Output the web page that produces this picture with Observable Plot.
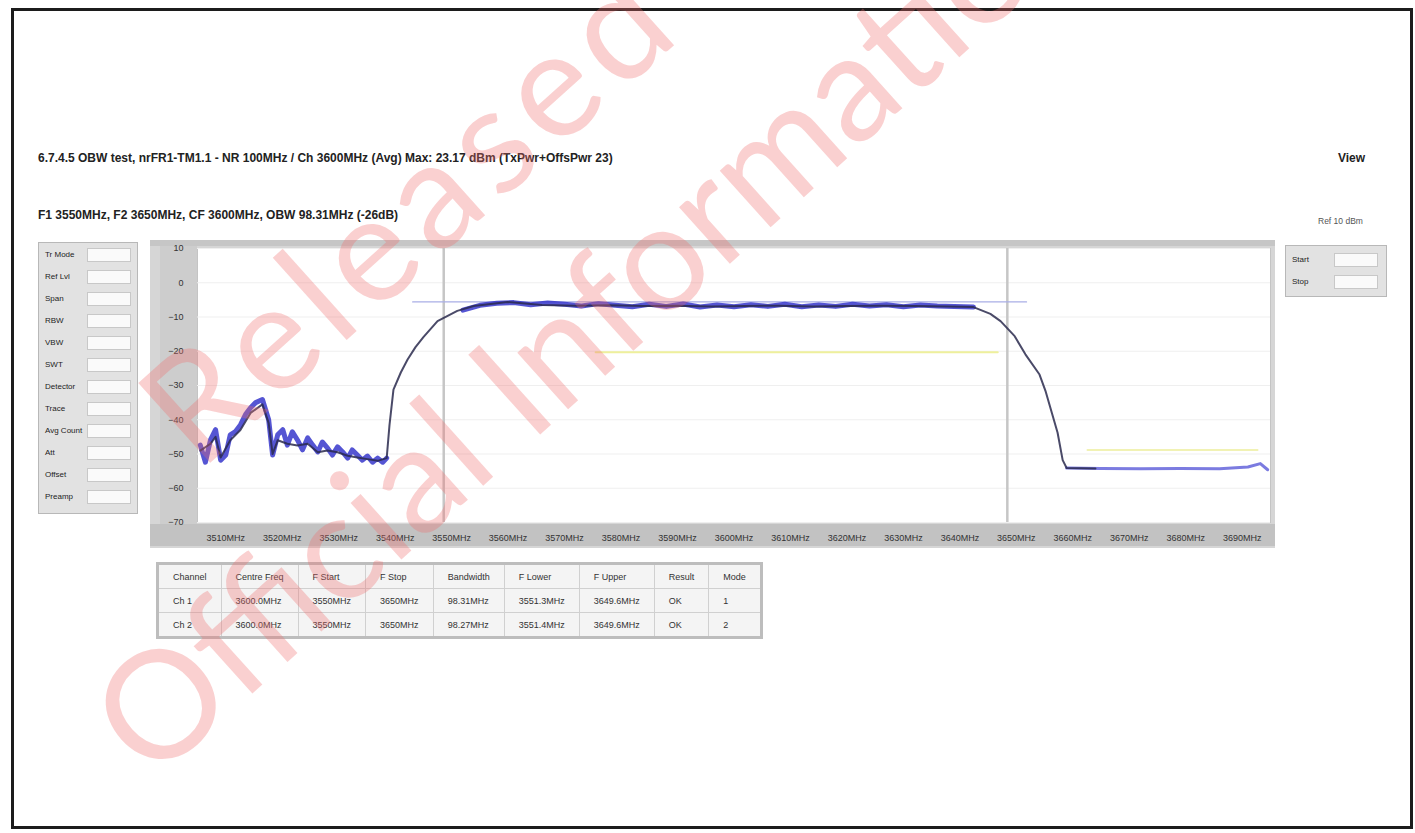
<!DOCTYPE html>
<html><head><meta charset="utf-8">
<script src="https://cdn.jsdelivr.net/npm/d3@7"></script>
<script src="https://cdn.jsdelivr.net/npm/@observablehq/plot@0.6"></script>
<style>
body{margin:0;background:#fff;font-family:"Liberation Sans",Arial,sans-serif;color:#222}
#page{position:relative;width:1415px;height:833px;overflow:hidden;background:#fff}
.abs{position:absolute}
#frame{left:11px;top:8px;width:1396px;height:815px;border:3px solid #1c1c1c;box-sizing:content-box}
.title{font-size:12px;font-weight:bold;white-space:nowrap}
#left{left:38px;top:242px;width:98px;height:270px;background:#e2e2e2;border:1px solid #b8b8b8}
.row{position:absolute;left:4px;width:90px;height:18px;font-size:8px;line-height:18px}
.row .lab{position:absolute;left:2px;top:0}
.row .val{position:absolute;left:44px;top:2px;width:44px;height:14px;background:#fafafa;border:1px solid #c8c8c8;box-sizing:border-box}
#chartbox{left:150px;top:240px;width:1125px;height:308px;background:#d6d6d6;border-top:6px solid #c6c6c6;box-sizing:border-box}
#ycol{left:160px;top:246px;width:37px;height:280px;background:#cdcdcd}
#xband{left:150px;top:524px;width:1125px;height:22px;background:#c2c2c2}
#plot{left:150px;top:240px}
#right{left:1285px;top:245px;width:100px;height:50px;background:#e2e2e2;border:1px solid #b8b8b8}
table#res{position:absolute;left:156px;top:562px;border-collapse:collapse;border:3px solid #bdbdbd;background:#f4f4f4;font-size:9px}
#res td{border:1px solid #d0d0d0;padding:0 14px;height:23px;white-space:nowrap;color:#333}
#wm{left:0;top:0;pointer-events:none}
</style></head><body>
<div id="page">
  <div class="abs" id="frame"></div>
  <div class="abs title" style="left:38px;top:151px">6.7.4.5 OBW test, nrFR1-TM1.1 - NR 100MHz / Ch 3600MHz (Avg) Max: 23.17 dBm (TxPwr+OffsPwr 23)</div>
  <div class="abs title" style="left:1338px;top:151px">View</div>
  <div class="abs title" style="left:38px;top:208px">F1 3550MHz, F2 3650MHz, CF 3600MHz, OBW 98.31MHz (-26dB)</div>
  <div class="abs" style="left:1318px;top:216px;font-size:8.5px;color:#555">Ref 10 dBm</div>
  <div class="abs" id="left"></div>
  <div class="abs" id="chartbox"></div>
  <div class="abs" id="ycol"></div>
  <div class="abs" id="xband"></div>
  <div class="abs" id="plot"></div>
  <div class="abs" id="right"></div>
  <table id="res"></table>
  <svg class="abs" id="wm" width="1415" height="833"></svg>
</div>
<script>
// ---- data ----
const xTicks = [3510,3520,3530,3540,3550,3560,3570,3580,3590,3600,3610,3620,3630,3640,3650,3660,3670,3680,3690];
const yTicks = [10,0,-10,-20,-30,-40,-50,-60,-70];

// blue (max hold) trace, frequency in MHz, level in dBm
const blueNoiseF = [3505.5,3506.4,3507.3,3508.2,3509.1,3510.0,3510.8,3511.7,3512.6,3513.5,3514.4,3515.3,3516.5,3517.6,3518.3,3519.2,3520.1,3520.9,3521.8,3522.7,3523.6,3524.5,3525.4,3526.3,3527.1,3528.0,3528.9,3529.8,3530.7,3531.6,3532.4,3533.3,3534.2,3535.1,3536.0,3536.9,3537.8,3538.5];
const blueNoiseV = [-47.4,-52.4,-45.9,-42.9,-51.8,-50.3,-44.4,-43.5,-41.5,-38.5,-36.5,-35.0,-34.1,-40.0,-50.3,-44.4,-42.9,-47.4,-43.5,-45.9,-48.8,-45.3,-47.4,-49.4,-46.5,-48.2,-50.3,-47.9,-49.4,-51.2,-48.8,-50.3,-51.8,-50.6,-52.4,-51.2,-52.4,-51.2];
const plateauF = [3552,3555,3558,3561,3564,3567,3570,3573,3576,3579,3582,3585,3588,3591,3594,3597,3600,3603,3606,3609,3612,3615,3618,3621,3624,3627,3630,3633,3636,3639,3642.4];
const plateauV = [-8.0,-6.6,-6.0,-5.8,-6.4,-5.9,-6.3,-6.8,-6.1,-6.6,-7.0,-6.3,-6.9,-6.2,-7.1,-6.5,-7.0,-6.4,-6.9,-6.3,-7.0,-6.5,-6.9,-6.3,-6.8,-6.4,-7.0,-6.5,-6.8,-6.9,-7.1];
const floorF = [3658.9,3665,3672,3679,3686,3691,3693.2,3694.5];
const floorV = [-54.1,-54.2,-54.3,-54.2,-54.3,-53.8,-52.8,-54.6];

// dark (average) trace
const darkNoiseF = [3505.5,3507.3,3508.2,3509.1,3510.8,3512.6,3514.4,3516.5,3517.6,3518.3,3519.2,3520.9,3522.7,3524.5,3526.3,3528.0,3529.8,3531.6,3533.3,3535.1,3536.9,3538.5];
const darkNoiseV = [-49,-47,-45,-51,-46,-43,-38,-35.5,-41,-50,-46,-47,-47.5,-47,-49.5,-49,-49.5,-50.5,-51,-51.5,-52,-51.2];
const riseF = [3539.0,3539.7,3541.0,3542.2,3543.6,3545.0,3547.5,3551.0,3553.9,3559.9];
const riseV = [-41.5,-31.2,-26.2,-22.4,-18.8,-15.9,-11.2,-8.2,-6.8,-5.6];
const darkPlateauF = [3566,3572,3578,3584,3590,3596,3602,3608,3614,3620,3626,3632,3638,3642.4];
const darkPlateauV = [-6.5,-6.7,-6.6,-6.8,-6.7,-6.9,-6.8,-6.7,-6.9,-6.8,-6.7,-6.8,-6.9,-7.1];
const fallF = [3645.4,3647.2,3649.7,3651.6,3654.1,3655.2,3657.3,3658.2,3658.9,3664];
const fallV = [-9.1,-11.2,-15.6,-20.9,-26.8,-31.8,-43.8,-51.8,-54.1,-54.2];

// markers and reference lines
const obwMarkers = [3548.6, 3648.4];
const limitF = [3543.1, 3651.8], limitV = -5.6;
const yellowAF = [3575.5, 3646.7], yellowAV = -20.3;
const yellowBF = [3662.6, 3692.7], yellowBV = -48.8;

// side panels / table text
const leftLabels = ["Tr Mode","Ref Lvl","Span","RBW","VBW","SWT","Detector","Trace","Avg Count","Att","Offset","Preamp"];
const rightLabels = ["Start","Stop"];
const tableRows = [
  ["Channel","Centre Freq","F Start","F Stop","Bandwidth","F Lower","F Upper","Result","Mode"],
  ["Ch 1","3600.0MHz","3550MHz","3650MHz","98.31MHz","3551.3MHz","3649.6MHz","OK","1"],
  ["Ch 2","3600.0MHz","3550MHz","3650MHz","98.27MHz","3551.4MHz","3649.6MHz","OK","2"]
];
const watermark = ["Released", "Official Information Act"];

// ---- build ----
const toPts = (F, V) => F.map((f, i) => ({f, v: V[i]}));
const blue = [
  ...toPts(blueNoiseF, blueNoiseV).map(d => ({...d, s: "noise"})),
  ...toPts(plateauF, plateauV).map(d => ({...d, s: "plateau"}))
];
const floor = toPts(floorF, floorV);
const dark = [
  ...toPts(darkNoiseF, darkNoiseV),
  ...toPts(riseF, riseV),
  ...toPts(darkPlateauF, darkPlateauV),
  ...toPts(fallF, fallV)
];
const seg = (F, v, name) => F.map(f => ({f, v, name}));

const chart = Plot.plot({
  width: 1125, height: 308,
  marginLeft: 47, marginRight: 5, marginTop: 8, marginBottom: 26,
  style: {background: "transparent", fontFamily: "Liberation Sans, Arial, sans-serif", fontSize: "9px", color: "#333"},
  x: {domain: [3505, 3695], ticks: xTicks, tickFormat: d => d + "MHz", tickSize: 0, tickPadding: 12, label: null},
  y: {domain: [-70, 10], ticks: yTicks, tickSize: 0, tickPadding: 14, label: null},
  marks: [
    Plot.frame({fill: "white", stroke: "#c4c4c4"}),
    Plot.gridY(yTicks, {stroke: "#efefef", strokeOpacity: 1}),
    Plot.ruleX(obwMarkers, {stroke: "#c6c6c6", strokeWidth: 2.5}),
    Plot.line(seg(yellowAF, yellowAV, "a"), {x: "f", y: "v", stroke: "#eef09c", strokeWidth: 2}),
    Plot.line(seg(yellowBF, yellowBV, "b"), {x: "f", y: "v", stroke: "#f1f2b4", strokeWidth: 2}),
    Plot.line(seg(limitF, limitV, "l"), {x: "f", y: "v", stroke: "#a9aee6", strokeWidth: 1.2}),
    Plot.line(blue, {x: "f", y: "v", z: "s", stroke: "#2a2ac8", strokeWidth: 5, strokeOpacity: 0.8}),
    Plot.line(floor, {x: "f", y: "v", stroke: "#7b7be0", strokeWidth: 3}),
    Plot.line(dark, {x: "f", y: "v", stroke: "#2a2a4e", strokeWidth: 2, strokeOpacity: 0.85})
  ]
});
document.getElementById("plot").appendChild(chart);

const left = document.getElementById("left");
leftLabels.forEach((t, i) => {
  const r = document.createElement("div");
  r.className = "row"; r.style.top = (3 + i * 22) + "px";
  r.innerHTML = `<span class="lab">${t}</span><span class="val"></span>`;
  left.appendChild(r);
});
const right = document.getElementById("right");
rightLabels.forEach((t, i) => {
  const r = document.createElement("div");
  r.className = "row"; r.style.top = (5 + i * 22) + "px";
  r.innerHTML = `<span class="lab">${t}</span><span class="val"></span>`;
  right.appendChild(r);
});
const tbl = document.getElementById("res");
tableRows.forEach(row => {
  const tr = document.createElement("tr");
  row.forEach(c => { const td = document.createElement("td"); td.textContent = c; tr.appendChild(td); });
  tbl.appendChild(tr);
});

const wm = d3.select("#wm");
const wmPos = [[200, 472], [152, 784]];
const wmSpacing = [9, 0];
watermark.forEach((t, i) => {
  wm.append("text")
    .attr("transform", `translate(${wmPos[i][0]},${wmPos[i][1]}) rotate(-42)`)
    .attr("font-family", "Lato, 'Open Sans', sans-serif")
    .attr("font-size", 150)
    .attr("letter-spacing", wmSpacing[i])
    .attr("fill", "rgba(240,110,110,0.32)")
    .text(t);
});
</script>
</body></html>
